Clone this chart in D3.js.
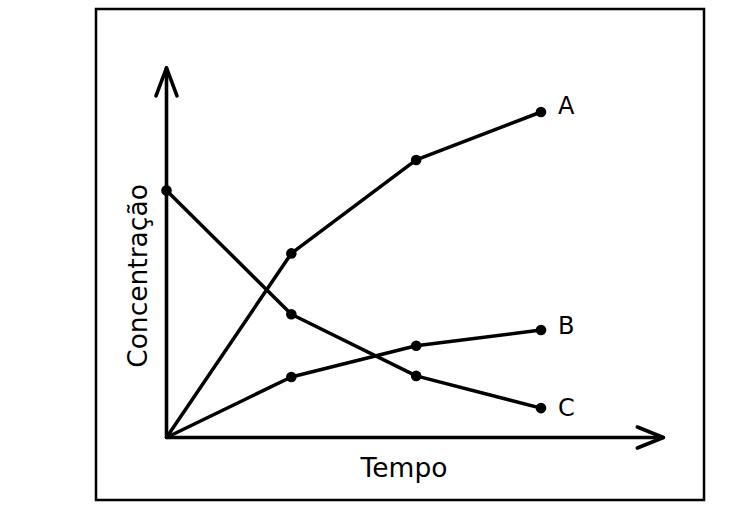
<!DOCTYPE html>
<html>
<head>
<meta charset="utf-8">
<script src="https://cdn.jsdelivr.net/npm/d3@7"></script>
<style>
  html, body { margin: 0; padding: 0; background: #fff; }
  svg text { font-family: "DejaVu Sans", sans-serif; fill: #000; }
</style>
</head>
<body>
<svg id="chart" width="750" height="525"></svg>
<script>
// Data (arbitrary units)
const times = [0, 1, 2, 3];
const seriesNames = ["A", "B", "C"];
const valuesA = [0, 5.26, 7.93, 9.3];
const valuesB = [0, 1.73, 2.62, 3.07];
const valuesC = [7.06, 3.52, 1.76, 0.84];
const xTitle = "Tempo";
const yTitle = "Concentração";

const labelShift = [-6.5, -4, 0]; // styling: vertical nudge of end labels

const series = [
  { name: seriesNames[0], values: valuesA },
  { name: seriesNames[1], values: valuesB },
  { name: seriesNames[2], values: valuesC }
];

const svg = d3.select("#chart");

const x = d3.scaleLinear().domain([0, 3]).range([166.5, 541]);
const y = d3.scaleLinear().domain([0, 10]).range([437.5, 87.5]);

// Frame
svg.append("rect")
  .attr("x", 96).attr("y", 9)
  .attr("width", 608).attr("height", 491)
  .attr("fill", "none").attr("stroke", "#000").attr("stroke-width", 2.5);

// Axes with open arrowheads
const xEnd = x(3.98), yEnd = y(10.56);
const axes = svg.append("g").attr("stroke", "#000").attr("stroke-width", 3.6)
  .attr("fill", "none").attr("stroke-linecap", "round").attr("stroke-linejoin", "round");
axes.append("path").attr("d", `M${x(0)},${y(0)}V${yEnd}`);
axes.append("path").attr("d", `M${x(0) - 10.5},${yEnd + 28}L${x(0)},${yEnd}L${x(0) + 10.5},${yEnd + 28}`);
axes.append("path").attr("d", `M${x(0)},${y(0)}H${xEnd}`);
axes.append("path").attr("d", `M${xEnd - 26},${y(0) - 10.5}L${xEnd},${y(0)}L${xEnd - 26},${y(0) + 10.5}`);

// Lines
const line = d3.line().x((d, i) => x(times[i])).y(d => y(d));
const g = svg.append("g");
series.forEach((s, k) => {
  g.append("path").datum(s.values)
    .attr("d", line)
    .attr("fill", "none").attr("stroke", "#000").attr("stroke-width", 3.5)
    .attr("stroke-linejoin", "round");
  const pts = s.values.map((v, i) => ({ v, i })).filter(d => !(d.i === 0 && d.v === 0));
  g.selectAll(null).data(pts)
    .enter().append("circle")
    .attr("cx", d => x(times[d.i])).attr("cy", d => y(d.v))
    .attr("r", 5.3).attr("fill", "#000");
  g.append("text")
    .attr("x", x(times[times.length - 1]) + 17)
    .attr("y", y(s.values[s.values.length - 1]) + labelShift[k])
    .attr("dominant-baseline", "central")
    .attr("font-size", 24)
    .text(s.name);
});

// Axis titles
svg.append("text")
  .attr("x", 404).attr("y", 477)
  .attr("text-anchor", "middle").attr("font-size", 26.5)
  .text(xTitle);
svg.append("text")
  .attr("transform", "translate(147,276) rotate(-90)")
  .attr("text-anchor", "middle").attr("font-size", 26.5)
  .text(yTitle);
</script>
</body>
</html>
